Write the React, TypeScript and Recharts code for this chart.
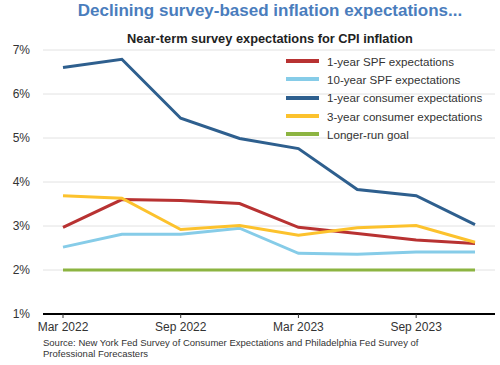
import React from "react";
import { LineChart, Line, XAxis, YAxis, CartesianGrid } from "recharts";

const categories = ["Mar 2022", "Jun 2022", "Sep 2022", "Dec 2022", "Mar 2023", "Jun 2023", "Sep 2023", "Dec 2023"];
const spf1 = [2.97, 3.6, 3.58, 3.51, 2.97, 2.83, 2.68, 2.6];
const spf10 = [2.52, 2.81, 2.81, 2.95, 2.38, 2.36, 2.41, 2.41];
const consumer1 = [6.6, 6.79, 5.45, 4.99, 4.76, 3.83, 3.69, 3.03];
const consumer3 = [3.69, 3.63, 2.92, 3.01, 2.79, 2.96, 3.01, 2.63];
const goal = [2, 2, 2, 2, 2, 2, 2, 2];
const yTicks = [1, 2, 3, 4, 5, 6, 7];

const series = [
  { key: "spf1", name: "1-year SPF expectations", color: "#b83232", values: spf1 },
  { key: "spf10", name: "10-year SPF expectations", color: "#86cce8", values: spf10 },
  { key: "consumer1", name: "1-year consumer expectations", color: "#2e5f8e", values: consumer1 },
  { key: "consumer3", name: "3-year consumer expectations", color: "#fcc22d", values: consumer3 },
  { key: "goal", name: "Longer-run goal", color: "#8cb441", values: goal },
];

const data = categories.map((c, i) => {
  const row: Record<string, any> = { cat: c };
  series.forEach((s) => (row[s.key] = s.values[i]));
  return row;
});

const font = "'Liberation Sans', Arial, sans-serif";

export default function App() {
  return (
    <div style={{ position: "absolute", left: 0, top: 0, width: 500, height: 365, background: "#fff", fontFamily: font }}>
      <div style={{ position: "absolute", left: 40, width: 460, top: 1, textAlign: "center", fontSize: 17, fontWeight: "bold", color: "#4a7dbd" }}>
        Declining survey-based inflation expectations...
      </div>
      <div style={{ position: "absolute", left: 40, width: 460, top: 31, textAlign: "center", fontSize: 12.8, fontWeight: "bold", color: "#222" }}>
        Near-term survey expectations for CPI inflation
      </div>
      <LineChart width={500} height={365} data={data} margin={{ top: 50, right: 5, left: 0, bottom: 21 }}>
        <CartesianGrid vertical={false} stroke="#e2e2e2" strokeWidth={1} />
        <XAxis
          dataKey="cat"
          interval={1}
          padding={{ left: 20, right: 20 }}
          height={30}
          axisLine={{ stroke: "#000", strokeWidth: 2 }}
          tickLine={{ stroke: "#333" }}
          tickSize={4}
          tickMargin={4}
          tick={{ fill: "#333", fontSize: 12, fontFamily: font }}
        />
        <YAxis
          domain={[1, 7]}
          ticks={yTicks}
          width={43}
          axisLine={false}
          tickLine={false}
          tickSize={0}
          tickMargin={13}
          tickFormatter={(v) => `${v}%`}
          tick={{ fill: "#333", fontSize: 12, fontFamily: font }}
        />
        {series.map((s) => (
          <Line
            key={s.key}
            dataKey={s.key}
            name={s.name}
            stroke={s.color}
            strokeWidth={3}
            dot={false}
            activeDot={false}
            isAnimationActive={false}
          />
        ))}
      </LineChart>
      <div style={{ position: "absolute", left: 286, top: 52, fontSize: 11.6, color: "#333" }}>
        {series.map((s) => (
          <div key={s.key} style={{ display: "flex", alignItems: "center", height: 18.3 }}>
            <div style={{ width: 33, height: 4, background: s.color, marginRight: 8 }} />
            <span>{s.name}</span>
          </div>
        ))}
      </div>
      <div style={{ position: "absolute", left: 43, top: 337, fontSize: 9.5, lineHeight: "11px", color: "#333" }}>
        Source: New York Fed Survey of Consumer Expectations and Philadelphia Fed Survey of
        <br />
        Professional Forecasters
      </div>
    </div>
  );
}
